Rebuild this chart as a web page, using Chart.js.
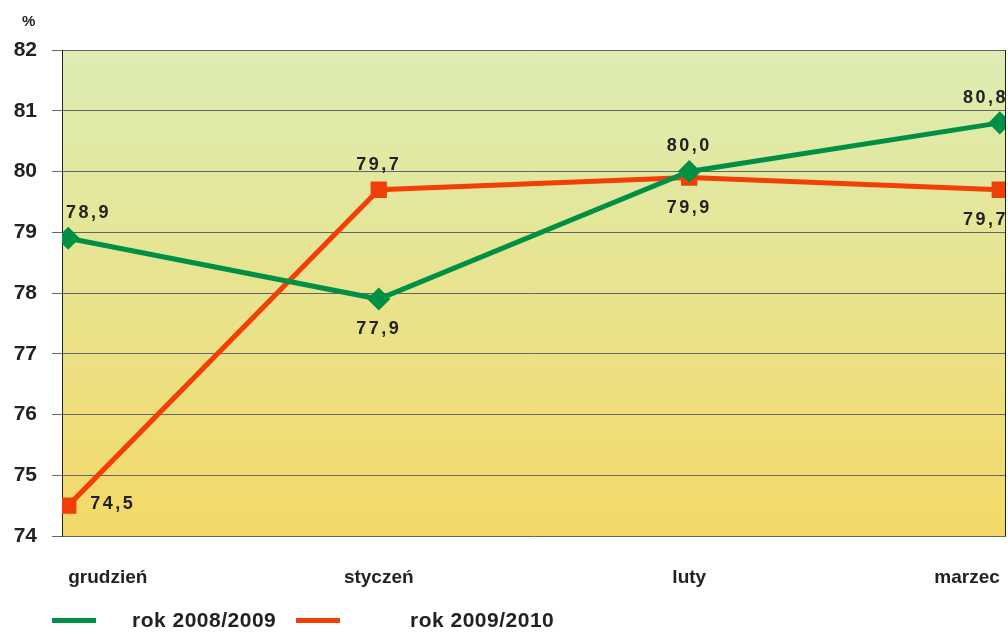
<!DOCTYPE html>
<html>
<head>
<meta charset="utf-8">
<script src="https://cdn.jsdelivr.net/npm/chart.js@4/dist/chart.umd.min.js"></script>
<style>
body{margin:0;background:#fff;font-family:"Liberation Sans",Arial,sans-serif;}
#wrap{position:relative;width:1008px;height:634px;}
.pct{position:absolute;left:22px;top:12px;font-weight:bold;font-size:15px;color:#222;}
.leg{position:absolute;top:608px;font-weight:bold;font-size:21px;color:#222;letter-spacing:0.5px;}
.leg span{position:absolute;top:10px;height:5px;width:44px;}
</style>
</head>
<body>
<div id="wrap">
<canvas id="c" width="1008" height="634"></canvas>
<div class="pct">%</div>
<div class="leg" style="left:52px"><span style="left:0;background:#009045"></span><b style="margin-left:80px">rok 2008/2009</b></div>
<div class="leg" style="left:296px"><span style="left:0;background:#F04008"></span><b style="margin-left:114px">rok 2009/2010</b></div>
</div>
<script>
var months=['grudzień','styczeń','luty','marzec'];
var y0809=[78.9,77.9,80.0,80.8];
var y0910=[74.5,79.7,79.9,79.7];
var yTicks=[74,75,76,77,78,79,80,81,82];
// where each value label sits relative to its point
var pos0809=['above','below','above','above'];
var pos0910=['right','above','below','below'];

function pts(arr){return arr.map(function(v,i){return {x:i,y:v};});}

var bgPlugin={
	id:'bg',
	beforeDraw:function(chart){
		var a=chart.chartArea,ctx=chart.ctx;
		var g=ctx.createLinearGradient(0,a.top,0,a.bottom);
		g.addColorStop(0,'#DCEDB4');
		g.addColorStop(1,'#F4D967');
		ctx.save();
		ctx.fillStyle=g;
		ctx.fillRect(a.left,a.top,a.right-a.left,a.bottom-a.top);
		ctx.restore();
	},
	afterDatasetsDraw:function(chart){
		var a=chart.chartArea,ctx=chart.ctx;
		ctx.save();
		ctx.strokeStyle='#222';ctx.lineWidth=1;
		ctx.beginPath();ctx.moveTo(a.right-0.5,a.top);ctx.lineTo(a.right-0.5,a.bottom);ctx.stroke();
		ctx.font='bold 18px "Liberation Sans", Arial';
		ctx.letterSpacing='2.5px';
		ctx.fillStyle='#222';
		ctx.textBaseline='middle';
		chart.data.datasets.forEach(function(ds,di){
			var meta=chart.getDatasetMeta(di);
			var p=ds.labelPos;
			meta.data.forEach(function(el,i){
				var t=ds.data[i].y.toFixed(1).replace('.',',');
				var w=ctx.measureText(t).width;
				var x=el.x-w/2,y=el.y;
				if(p[i]=='above')y-=25;
				if(p[i]=='below')y+=30;
				if(p[i]=='right'){x=el.x+22;y-=2;}
				if(x<a.left+4)x=a.left+4;
				if(x+w>a.right+2)x=a.right+2-w;
				ctx.textAlign='left';
				ctx.fillText(t,x,y);
			});
		});
		ctx.restore();
	}
};

new Chart(document.getElementById('c'),{
	type:'line',
	data:{
		datasets:[
			{label:'rok 2008/2009',data:pts(y0809),labelPos:pos0809,borderColor:'#009045',backgroundColor:'#009045',borderWidth:5,pointStyle:'rectRot',pointRadius:8,pointHoverRadius:8},
			{label:'rok 2009/2010',data:pts(y0910),labelPos:pos0910,borderColor:'#F04008',backgroundColor:'#F04008',borderWidth:5,pointStyle:'rect',pointRadius:8,pointHoverRadius:8}
		]
	},
	options:{
		responsive:false,
		animation:false,
		layout:{autoPadding:false,padding:{top:50,right:2,left:0,bottom:0}},
		plugins:{legend:{display:false},tooltip:{enabled:false}},
		scales:{
			x:{
				type:'linear',min:-0.02,max:3.02,
				afterBuildTicks:function(s){s.ticks=months.map(function(m,i){return {value:i};});},
				afterFit:function(s){s.height=98;s.paddingLeft=0;s.paddingRight=0;},
				grid:{display:false},
				border:{display:false},
				ticks:{
					align:'inner',padding:22,color:'#222',
					font:{family:'"Liberation Sans", Arial',size:19,weight:'bold'},
					callback:function(v){return months[v];}
				}
			},
			y:{
				min:74,max:82,
				afterBuildTicks:function(s){s.ticks=yTicks.map(function(v){return {value:v};});},
				afterFit:function(s){s.width=62;s.paddingTop=0;s.paddingBottom=0;},
				grid:{color:'#666',lineWidth:1,tickLength:10},
				border:{color:'#222',width:1},
				ticks:{
					padding:15,color:'#222',
					font:{family:'"Liberation Sans", Arial',size:21,weight:'bold'}
				}
			}
		}
	},
	plugins:[bgPlugin]
});
</script>
</body>
</html>
